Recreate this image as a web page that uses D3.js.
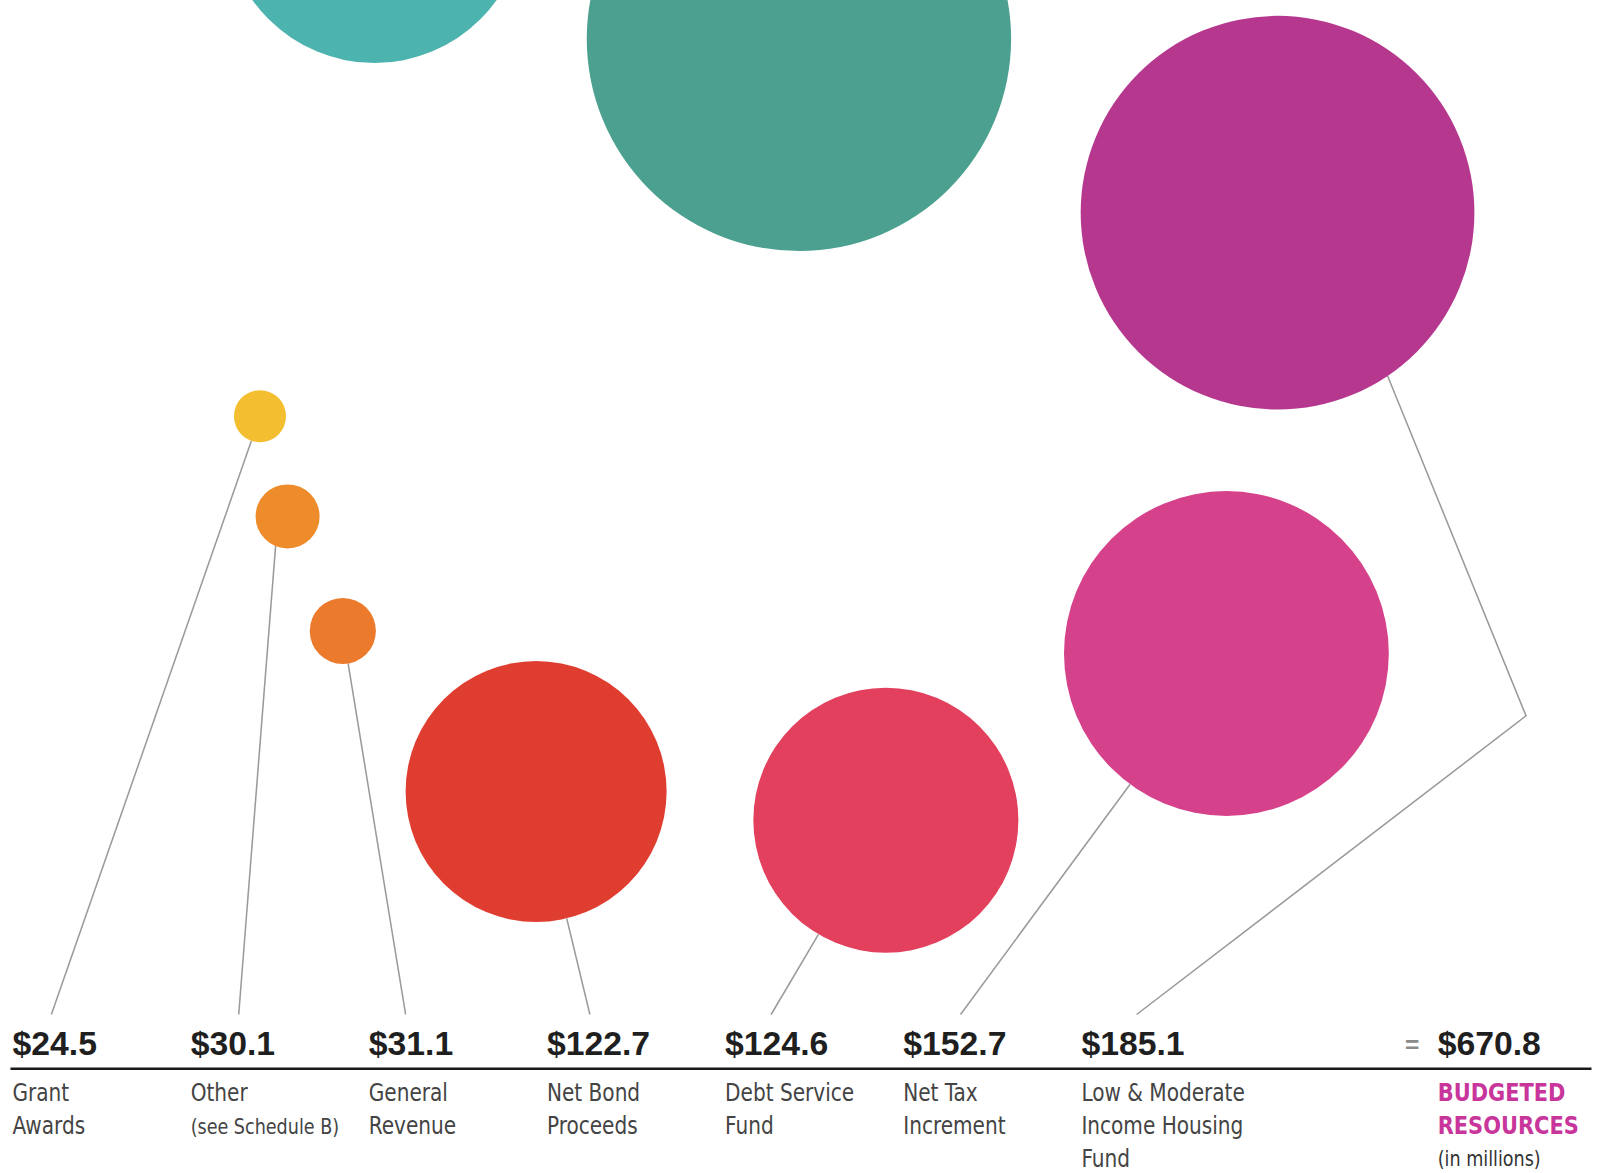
<!DOCTYPE html>
<meta charset="utf-8">
<style>
html, body { margin: 0; background: #fff; overflow: hidden; }
svg { display: block; }
.value { font-family: "Liberation Sans", Arial, sans-serif; font-weight: bold; font-size: 33px; fill: #1f1f1f; }
.label { font-family: "DejaVu Sans Condensed", "DejaVu Sans", sans-serif; font-stretch: condensed; font-size: 24px; fill: #444; }
.small { font-size: 21px; }
.leader { fill: none; stroke: #9a9a9a; stroke-width: 1.5; }
.total-label { font-family: "DejaVu Sans Condensed", "DejaVu Sans", sans-serif; font-stretch: condensed; font-weight: bold; font-size: 25px; fill: #c8359b; }
</style>
<body></body>
<script src="https://d3js.org/d3.v7.min.js"></script>
<script>

// data
var categories = ["Grant Awards", "Other", "General Revenue", "Net Bond Proceeds",
                  "Debt Service Fund", "Net Tax Increment", "Low & Moderate Income Housing Fund"];
var values = [24.5, 30.1, 31.1, 122.7, 124.6, 152.7, 185.1];
var labelLines = [["Grant", "Awards"], ["Other", "(see Schedule B)"], ["General", "Revenue"],
                  ["Net Bond", "Proceeds"], ["Debt Service", "Fund"], ["Net Tax", "Increment"],
                  ["Low & Moderate", "Income Housing", "Fund"]];
var total = 670.8;
var totalLines = ["BUDGETED", "RESOURCES"];
var unitNote = "(in millions)";
// bubbles of the neighbouring chart, cut off at the top
var topValues = [141, 199.5];

// layout (bubble centres, leader elbows) kept apart from the data
var colors = ["#f3bf31", "#ee8b2b", "#ec7a2c", "#e03d31", "#e2405d", "#d6418b", "#b5388e"];
var topColors = ["#4db3ae", "#4ba08f"];
var centres = [[254, 407], [281, 505], [335, 617], [524, 774], [866, 802], [1199, 639], [1249, 208]];
var topCentres = [[366, -85], [781, 38]];
var leaderOffset = [38, 47, 36, 42, 45, 56, 54];
var leaderAngle = [null, 112, null, null, null, null, 56];   // degrees, null = aim at the label
var elbows = [null, null, null, null, null, null, [1492, 700]];

var W = 1604, H = 1173;
var svg = d3.select("body").append("svg")
    .attr("width", W).attr("height", H)
    .attr("viewBox", "0 0 1568 1147");

// radius is linear in value
var r = d3.scaleLinear().domain([0, 185.1]).range([0, 192.5]);
// label columns
var col = d3.scalePoint().domain(d3.range(9)).range([12, 12 + 8 * 174.2]);

var valueY = 1032, ruleY = 1045, leaderEndY = 992, squeeze = 0.91;

// cut-off bubbles
svg.selectAll("circle.top").data(topValues).enter().append("circle")
    .attr("class", "top")
    .attr("cx", (d, i) => topCentres[i][0])
    .attr("cy", (d, i) => topCentres[i][1])
    .attr("r", d => r(d))
    .attr("fill", (d, i) => topColors[i]);

// leader lines
svg.selectAll("path.leader").data(values).enter().append("path")
    .attr("class", "leader")
    .attr("d", function(d, i) {
        var c = centres[i];
        var end = [col(i) + leaderOffset[i], leaderEndY];
        var toward = elbows[i] || end;
        var a = leaderAngle[i] != null ? leaderAngle[i] * Math.PI / 180
                                      : Math.atan2(toward[1] - c[1], toward[0] - c[0]);
        var start = [c[0] + Math.cos(a) * r(d), c[1] + Math.sin(a) * r(d)];
        var pts = [start];
        if (elbows[i]) pts.push(elbows[i]);
        pts.push(end);
        return d3.line()(pts);
    });

// bubbles
svg.selectAll("circle.bubble").data(values).enter().append("circle")
    .attr("class", "bubble")
    .attr("cx", (d, i) => centres[i][0])
    .attr("cy", (d, i) => centres[i][1])
    .attr("r", d => r(d))
    .attr("fill", (d, i) => colors[i]);

// values
svg.selectAll("text.value").data(values).enter().append("text")
    .attr("class", "value")
    .attr("x", (d, i) => col(i))
    .attr("y", valueY)
    .text(d => "$" + d3.format(".1f")(d));

svg.append("text").attr("class", "value")
    .attr("x", col(8)).attr("y", valueY)
    .text("$" + d3.format(".1f")(total));
svg.append("text")
    .attr("x", col(8) - 32).attr("y", valueY - 2)
    .style("font-family", "Liberation Sans, sans-serif").style("font-size", "24px")
    .style("font-weight", "bold").style("fill", "#8a8a8a")
    .text("=");

// rule
svg.append("line")
    .attr("x1", 10).attr("x2", 1556)
    .attr("y1", ruleY).attr("y2", ruleY)
    .attr("stroke", "#1a1a1a").attr("stroke-width", 2.5);

// category labels
var lab = svg.selectAll("text.label").data(labelLines).enter().append("text")
    .attr("class", "label")
    .attr("transform", (d, i) => "translate(" + col(i) + ",1077) scale(" + squeeze + ",1)");
lab.selectAll("tspan").data(d => d).enter().append("tspan")
    .attr("x", 0)
    .attr("dy", (d, j) => j === 0 ? 0 : 32)
    .attr("class", d => d.charAt(0) === "(" ? "small" : null)
    .text(d => d);

var tl = svg.append("text").attr("class", "total-label")
    .attr("transform", "translate(" + col(8) + ",1077) scale(" + squeeze + ",1)");
tl.selectAll("tspan").data(totalLines).enter().append("tspan")
    .attr("x", 0).attr("dy", (d, j) => j === 0 ? 0 : 32).text(d => d);
svg.append("text").attr("class", "label small")
    .attr("transform", "translate(" + col(8) + ",1140) scale(" + squeeze + ",1)")
    .style("fill", "#333")
    .text(unitNote);

</script>
